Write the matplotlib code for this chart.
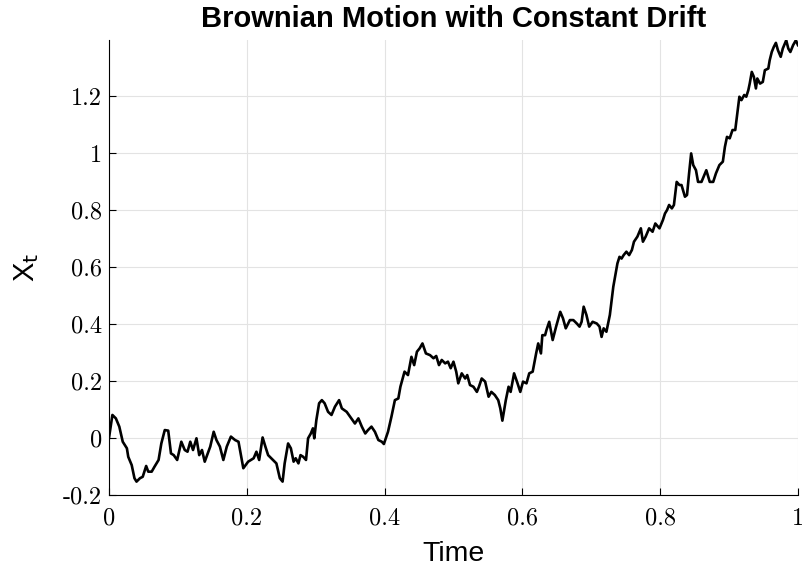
import matplotlib
matplotlib.use("Agg")
import matplotlib.pyplot as plt

# sampled path of X_t against time
t = [0.000, 0.005, 0.010, 0.015, 0.020, 0.026, 0.028, 0.033, 0.037, 0.040,
     0.045, 0.049, 0.054, 0.057, 0.062, 0.066, 0.072, 0.076, 0.081, 0.086,
     0.090, 0.094, 0.099, 0.105, 0.110, 0.114, 0.118, 0.122, 0.127, 0.131,
     0.135, 0.139, 0.147, 0.152, 0.156, 0.161, 0.166, 0.171, 0.177, 0.183,
     0.188, 0.195, 0.202, 0.210, 0.214, 0.218, 0.223, 0.227, 0.231, 0.238,
     0.243, 0.248, 0.252, 0.255, 0.260, 0.264, 0.268, 0.271, 0.275, 0.278,
     0.282, 0.286, 0.289, 0.293, 0.296, 0.298, 0.301, 0.305, 0.309, 0.313,
     0.318, 0.323, 0.328, 0.334, 0.338, 0.345, 0.350, 0.357, 0.362, 0.367,
     0.372, 0.376, 0.381, 0.386, 0.391, 0.396, 0.399, 0.405, 0.410, 0.415,
     0.420, 0.423, 0.429, 0.434, 0.439, 0.443, 0.447, 0.451, 0.455, 0.460,
     0.466, 0.471, 0.475, 0.479, 0.483, 0.488, 0.492, 0.496, 0.500, 0.504,
     0.507, 0.512, 0.517, 0.520, 0.524, 0.529, 0.534, 0.537, 0.541, 0.546,
     0.551, 0.555, 0.560, 0.565, 0.568, 0.571, 0.576, 0.580, 0.583, 0.588,
     0.593, 0.597, 0.601, 0.606, 0.610, 0.615, 0.620, 0.623, 0.627, 0.629,
     0.633, 0.635, 0.639, 0.644, 0.649, 0.655, 0.659, 0.663, 0.669, 0.674,
     0.679, 0.683, 0.686, 0.689, 0.693, 0.697, 0.702, 0.708, 0.712, 0.715,
     0.718, 0.722, 0.727, 0.732, 0.738, 0.741, 0.744, 0.747, 0.751, 0.755,
     0.759, 0.762, 0.767, 0.772, 0.775, 0.779, 0.784, 0.789, 0.793, 0.799,
     0.804, 0.807, 0.810, 0.813, 0.817, 0.820, 0.824, 0.828, 0.831, 0.836,
     0.839, 0.842, 0.845, 0.848, 0.852, 0.855, 0.860, 0.863, 0.867, 0.872,
     0.877, 0.881, 0.886, 0.891, 0.894, 0.897, 0.901, 0.905, 0.909, 0.912,
     0.915, 0.918, 0.922, 0.925, 0.928, 0.930, 0.933, 0.936, 0.939, 0.941,
     0.945, 0.949, 0.952, 0.957, 0.959, 0.962, 0.965, 0.968, 0.971, 0.975,
     0.978, 0.981, 0.983, 0.986, 0.989, 0.993, 0.997, 1.000]
x = [0.000, 0.081, 0.069, 0.040, -0.013, -0.036, -0.066, -0.095, -0.141, -0.153,
     -0.141, -0.136, -0.098, -0.118, -0.118, -0.101, -0.077, -0.019, 0.028, 0.026,
     -0.054, -0.060, -0.077, -0.013, -0.042, -0.048, -0.013, -0.042, -0.001, -0.060,
     -0.042, -0.083, -0.030, 0.022, -0.007, -0.030, -0.077, -0.030, 0.005, -0.007,
     -0.013, -0.106, -0.083, -0.071, -0.048, -0.077, 0.002, -0.030, -0.060, -0.077,
     -0.089, -0.141, -0.153, -0.089, -0.019, -0.036, -0.083, -0.071, -0.089, -0.060,
     -0.066, -0.077, -0.001, 0.016, 0.034, -0.001, 0.063, 0.122, 0.133, 0.122,
     0.092, 0.081, 0.110, 0.133, 0.104, 0.092, 0.075, 0.051, 0.069, 0.040,
     0.016, 0.028, 0.040, 0.022, -0.007, -0.013, -0.021, 0.022, 0.075, 0.133,
     0.139, 0.180, 0.233, 0.221, 0.285, 0.256, 0.303, 0.315, 0.332, 0.297,
     0.291, 0.280, 0.288, 0.256, 0.274, 0.262, 0.268, 0.245, 0.268, 0.233,
     0.192, 0.227, 0.209, 0.221, 0.186, 0.180, 0.162, 0.180, 0.209, 0.198,
     0.145, 0.162, 0.151, 0.133, 0.104, 0.061, 0.133, 0.180, 0.162, 0.227,
     0.192, 0.162, 0.198, 0.192, 0.227, 0.233, 0.297, 0.332, 0.297, 0.361,
     0.361, 0.379, 0.408, 0.344, 0.391, 0.443, 0.420, 0.385, 0.414, 0.414,
     0.402, 0.391, 0.408, 0.461, 0.432, 0.391, 0.408, 0.402, 0.391, 0.355,
     0.385, 0.373, 0.432, 0.531, 0.613, 0.636, 0.630, 0.642, 0.654, 0.642,
     0.660, 0.689, 0.707, 0.736, 0.689, 0.707, 0.736, 0.724, 0.753, 0.736,
     0.765, 0.788, 0.800, 0.818, 0.806, 0.818, 0.899, 0.888, 0.888, 0.847,
     0.853, 0.929, 0.999, 0.958, 0.940, 0.899, 0.899, 0.917, 0.940, 0.899,
     0.899, 0.929, 0.958, 0.970, 1.022, 1.057, 1.052, 1.081, 1.081, 1.139,
     1.198, 1.186, 1.204, 1.198, 1.221, 1.244, 1.285, 1.268, 1.227, 1.262,
     1.244, 1.250, 1.291, 1.297, 1.326, 1.355, 1.373, 1.387, 1.361, 1.338,
     1.367, 1.385, 1.396, 1.367, 1.355, 1.379, 1.396, 1.379]

x_ticks = [0, 0.2, 0.4, 0.6, 0.8, 1]
x_tick_labels = ['0', '0.2', '0.4', '0.6', '0.8', '1']
y_ticks = [-0.2, 0, 0.2, 0.4, 0.6, 0.8, 1, 1.2]
y_tick_labels = ['-0.2', '0', '0.2', '0.4', '0.6', '0.8', '1', '1.2']

fig = plt.figure(figsize=(8.03, 5.74), dpi=100)
ax = fig.add_axes([0.1357, 0.1376, 0.858, 0.7927])

ax.plot(t, x, color='black', linewidth=1.9)

ax.set_xlim(0, 1)
ax.set_ylim(-0.2, 1.397)
ax.set_xticks(x_ticks)
ax.set_xticklabels(x_tick_labels, fontfamily='cmr10', fontsize=17.5)
ax.set_yticks(y_ticks)
ax.set_yticklabels(y_tick_labels, fontfamily='cmr10', fontsize=17.5)
ax.tick_params(direction='in', length=5, width=0.8)
ax.tick_params(axis='x', pad=9)
ax.tick_params(axis='y', pad=5)

ax.grid(True, color='#e3e3e3', linewidth=0.8)
ax.set_axisbelow(True)
for side in ['top', 'right']:
    ax.spines[side].set_visible(False)
for side in ['left', 'bottom']:
    ax.spines[side].set_linewidth(0.8)

ax.set_title('Brownian Motion with Constant Drift', fontfamily='Liberation Sans',
             fontweight='bold', fontsize=21, pad=9.5)
ax.set_xlabel('Time', fontfamily='Liberation Sans', fontsize=20.5, labelpad=8)
ax.set_ylabel(r'X$_{\mathsf{t}}$', fontfamily='Liberation Sans', fontsize=21, labelpad=16)

fig.savefig('out.png', dpi=100)
